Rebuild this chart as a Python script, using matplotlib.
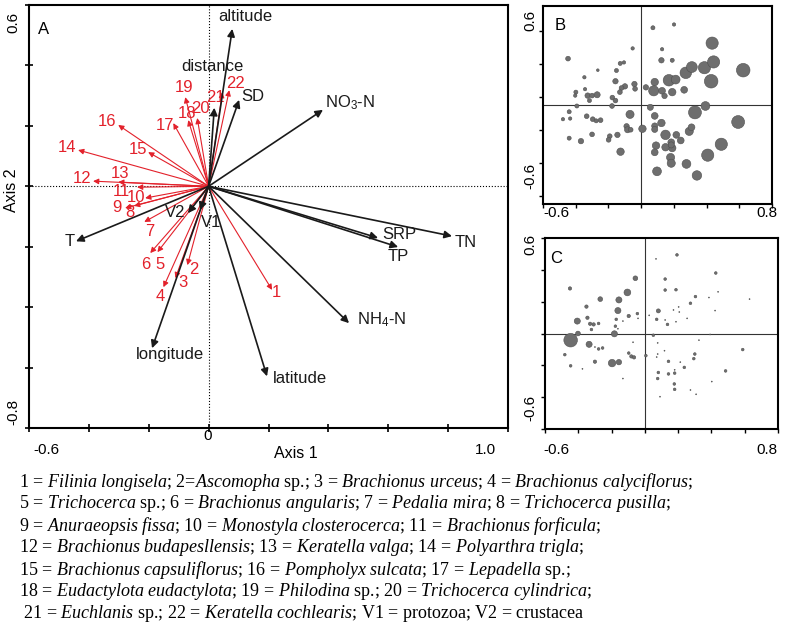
import re
import numpy as np
import matplotlib
matplotlib.use('Agg')
import matplotlib.pyplot as plt

plt.rcParams['font.family'] = 'Liberation Sans'
plt.rcParams['mathtext.fontset'] = 'custom'
plt.rcParams['mathtext.rm'] = 'Liberation Serif'
plt.rcParams['mathtext.it'] = 'Liberation Serif:italic'
plt.rcParams['mathtext.sf'] = 'Liberation Sans'

RED = '#e3212b'
GREY = '#6e6e6e'

# --- panel A: environmental vectors (black) ---
env_names = ['altitude', 'distance', 'SD', r'NO$_\mathsf{3}$-N', 'TN', 'SRP', 'TP',
             r'NH$_\mathsf{4}$-N', 'latitude', 'longitude', 'T', 'V2', 'V1']
env_x = [0.079, 0.019, 0.102, 0.382, 0.813, 0.566, 0.633, 0.469, 0.195, -0.189, -0.443, -0.069, -0.029]
env_y = [0.521, 0.260, 0.286, 0.253, -0.165, -0.171, -0.201, -0.453, -0.629, -0.536, -0.182, -0.089, -0.079]
# label offsets (pixels) from arrow tips
env_off = [(13, 12), (-2, 41), (14, 3), (27, 7), (14, -6), (21, 3), (0, -9),
           (33, 3), (33, -2), (18, -6), (-6, 0), (-13, 1), (11, -12)]

# --- panel A: species vectors (red) ---
sp_ids = [str(i) for i in range(1, 23)]
sp_x = [0.212, -0.071, -0.111, -0.151, -0.171, -0.195, -0.215, -0.249, -0.279, -0.212, -0.239,
        -0.386, -0.302, -0.436, -0.202, -0.302, -0.118, -0.068, -0.078, -0.038, 0.046, 0.069]
sp_y = [-0.343, -0.261, -0.304, -0.334, -0.218, -0.221, -0.118, -0.065, -0.072, -0.039, -0.003,
        0.017, 0.014, 0.120, 0.113, 0.203, 0.209, 0.219, 0.295, 0.226, 0.312, 0.318]
sp_off = [(4, -3), (6, -4), (8, -4), (-3, -9), (3, -12), (-4, -11), (5, -10), (-4, -7),
          (-8, 1), (-9, 1), (-16, -4), (-11, 3), (2, 9), (-11, 3), (-10, 3), (-11, 3),
          (-8, -2), (-1, 7), (-1, 10), (3, 10), (-7, -5), (6, 7)]

# --- panel B: site scores, bubble = relative abundance ---
b_x = [0.072, 0.201, -0.052, 0.128, -0.447, 0.124, 0.190, -0.128, -0.105, -0.265,
       -0.151, -0.347, -0.157, -0.041, -0.037, 0.029, 0.083, -0.099, -0.120, -0.130,
       -0.343, -0.399, -0.403, -0.327, -0.300, -0.269, -0.316, -0.176, -0.157, -0.393,
       -0.178, -0.440, -0.434, -0.478, -0.333, -0.296, -0.248, -0.275, -0.068, -0.089,
       -0.083, -0.064, -0.145, -0.192, -0.199, -0.300, -0.440, -0.368, -0.126, 0.008,
       0.077, 0.128, 0.143, 0.190, 0.170, 0.211, 0.263, 0.273, 0.310, 0.387,
       0.434, 0.443, 0.428, 0.624, 0.056, 0.083, 0.124, 0.083, 0.083, 0.149,
       0.215, 0.242, 0.294, 0.308, 0.329, 0.393, 0.593, 0.490, 0.407, 0.184,
       0.190, 0.149, 0.091, 0.083, 0.180, 0.184, 0.277, 0.341, 0.097, 0.184]
b_y = [0.468, 0.488, 0.343, 0.338, 0.281, 0.271, 0.271, 0.252, 0.258, 0.211,
       0.209, 0.168, 0.144, 0.127, 0.098, 0.107, 0.139, 0.113, 0.103, 0.078,
       0.096, 0.078, 0.057, 0.057, 0.057, 0.062, 0.027, 0.045, 0.027, -0.006,
       -0.006, -0.041, -0.082, -0.086, -0.068, -0.086, -0.092, -0.096, -0.057, -0.129,
       -0.150, -0.150, -0.181, -0.189, -0.211, -0.178, -0.201, -0.219, -0.283, -0.144,
       0.086, 0.086, 0.055, 0.078, 0.150, 0.154, 0.092, 0.195, 0.230, 0.226,
       0.375, 0.261, 0.144, 0.211, -0.014, -0.066, -0.109, -0.127, -0.148, -0.181,
       -0.181, -0.215, -0.160, -0.135, -0.045, -0.006, -0.103, -0.238, -0.304, -0.226,
       -0.261, -0.256, -0.246, -0.287, -0.318, -0.353, -0.357, -0.427, -0.402, -0.242]
b_abund = [12, 10, 10, 10, 14, 16, 12, 12, 10, 8,
           12, 10, 16, 16, 14, 16, 22, 16, 14, 14,
           10, 12, 10, 16, 14, 18, 12, 14, 14, 12,
           14, 12, 10, 10, 14, 14, 14, 12, 24, 16,
           18, 14, 16, 14, 14, 14, 12, 16, 22, 22,
           30, 20, 16, 22, 34, 26, 20, 34, 32, 36,
           36, 36, 40, 40, 18, 20, 22, 18, 18, 28,
           20, 20, 24, 20, 38, 26, 38, 36, 36, 20,
           22, 22, 22, 20, 24, 24, 26, 28, 26, 18]

# --- panel C ---
c_x = [0.193, 0.067, 0.426, 0.122, -0.057, -0.450, 0.122, 0.187, -0.105, -0.268,
       -0.156, 0.304, 0.385, 0.440, 0.629, 0.274, -0.351, -0.162, 0.203, 0.172,
       0.207, 0.422, 0.081, -0.045, -0.097, -0.041, 0.026, 0.254, 0.071, 0.122,
       0.187, 0.136, -0.172, -0.132, -0.345, -0.406, -0.329, -0.308, -0.278, -0.321,
       -0.177, -0.162, -0.402, -0.446, -0.183, 0.051, 0.392, 0.325, 0.077, -0.071,
       -0.335, -0.300, -0.278, -0.254, -0.481, 0.588, 0.118, 0.006, -0.097, -0.081,
       -0.065, 0.077, 0.071, 0.300, 0.294, 0.142, 0.213, -0.300, -0.197, -0.156,
       -0.446, -0.375, 0.237, 0.179, 0.081, 0.142, 0.179, 0.485, 0.077, -0.132,
       0.402, 0.177, 0.179, 0.274, 0.308, 0.091]
c_y = [0.494, 0.469, 0.380, 0.342, 0.347, 0.283, 0.273, 0.275, 0.258, 0.216,
       0.211, 0.232, 0.226, 0.262, 0.216, 0.190, 0.169, 0.144, 0.167, 0.148,
       0.135, 0.144, 0.142, 0.125, 0.110, 0.095, 0.114, 0.095, 0.089, 0.085,
       0.074, 0.057, 0.089, 0.078, 0.099, 0.078, 0.061, 0.057, 0.063, 0.025,
       0.046, 0.030, 0.000, -0.042, -0.002, -0.011, -0.006, -0.042, -0.059, -0.055,
       -0.068, -0.085, -0.097, -0.091, -0.133, -0.101, -0.108, -0.139, -0.123, -0.144,
       -0.150, -0.129, -0.148, -0.129, -0.158, -0.175, -0.180, -0.177, -0.186, -0.180,
       -0.203, -0.222, -0.213, -0.228, -0.245, -0.254, -0.249, -0.235, -0.283, -0.283,
       -0.302, -0.317, -0.351, -0.355, -0.382, -0.397]
c_abund = [8, 3, 8, 8, 14, 10, 8, 8, 20, 14,
           18, 8, 3, 3, 3, 8, 10, 18, 3, 3,
           3, 3, 12, 8, 10, 3, 3, 3, 8, 3,
           3, 8, 8, 3, 10, 18, 10, 10, 8, 8,
           8, 3, 14, 40, 18, 8, 3, 3, 3, 3,
           18, 3, 8, 8, 8, 8, 3, 8, 8, 10,
           10, 3, 3, 8, 8, 8, 3, 10, 22, 16,
           8, 3, 8, 3, 8, 8, 8, 8, 8, 3,
           3, 8, 8, 3, 3, 3]

legend_lines = [
    "1 = *Filinia longisela*; 2=*Ascomopha* sp.; 3 = *Brachionus urceus*; 4 = *Brachionus calyciflorus*;",
    "5 = *Trichocerca* sp.; 6 = *Brachionus angularis*; 7 = *Pedalia mira*; 8 = *Trichocerca pusilla*;",
    "9 = *Anuraeopsis fissa*; 10 = *Monostyla closterocerca*; 11 = *Brachionus forficula*;",
    "12 = *Brachionus budapesllensis*; 13 = *Keratella valga*; 14 = *Polyarthra trigla*;",
    "15 = *Brachionus capsuliflorus*; 16 = *Pompholyx sulcata*; 17 = *Lepadella* sp.;",
    "18 = *Eudactylota eudactylota*; 19 = *Philodina* sp.; 20 = *Trichocerca cylindrica*;",
    " 21 = *Euchlanis* sp.; 22 = *Keratella cochlearis*; V1 = protozoa; V2 = crustacea",
]

W, H = 787, 625
fig = plt.figure(figsize=(W / 100, H / 100), dpi=100)


def frac(px, py):
    return px / W, 1 - py / H


def box(l, t, r, b):
    return [l / W, 1 - b / H, (r - l) / W, (b - t) / H]


# ---------------- panel A ----------------
ax = fig.add_axes(box(29, 5, 508, 428))
ax.set_xlim(-0.6, 1.0)
ax.set_ylim(-0.8, 0.6)
ax.axhline(0, color='k', ls=':', lw=0.8)
ax.axvline(0, color='k', ls=':', lw=0.8)
for s in ax.spines.values():
    s.set_linewidth(1.5)
ax.set_xticks(np.arange(-0.6, 1.01, 0.2))
ax.set_yticks(np.arange(-0.8, 0.61, 0.2))
ax.tick_params(direction='inout', length=6, width=1.2, labelbottom=False, labelleft=False)

for x, y, lab, (ox, oy) in zip(sp_x, sp_y, sp_ids, sp_off):
    ax.annotate('', xy=(x, y), xytext=(0, 0),
                arrowprops=dict(arrowstyle='-|>', color=RED, lw=0.8, shrinkA=0, shrinkB=0,
                                mutation_scale=8))
    ax.annotate(lab, xy=(x, y), xytext=(ox, oy), textcoords='offset pixels',
                ha='center', va='center', color=RED, fontsize=12)

for x, y, lab, (ox, oy) in zip(env_x, env_y, env_names, env_off):
    ax.annotate('', xy=(x, y), xytext=(0, 0),
                arrowprops=dict(arrowstyle='-|>', color='#1a1a1a', lw=1.2, shrinkA=0, shrinkB=0,
                                mutation_scale=11))
    ax.annotate(lab, xy=(x, y), xytext=(ox, oy), textcoords='offset pixels',
                ha='center', va='center', color='#1a1a1a', fontsize=12)

fig.text(*frac(44, 30), 'A', fontsize=12, ha='center', va='center')
fig.text(*frac(46, 450), '-0.6', fontsize=11, ha='center', va='center')
fig.text(*frac(208, 436), '0', fontsize=11, ha='center', va='center')
fig.text(*frac(485, 450), '1.0', fontsize=11, ha='center', va='center')
fig.text(*frac(296, 453), 'Axis 1', fontsize=11.5, ha='center', va='center')
fig.text(*frac(13, 22), '0.6', fontsize=11, ha='center', va='center', rotation=90)
fig.text(*frac(13, 412), '-0.8', fontsize=11, ha='center', va='center', rotation=90)
fig.text(*frac(11, 190), 'Axis 2', fontsize=11.5, ha='center', va='center', rotation=90)


# ---------------- panels B and C ----------------
def bubble_panel(rect, xs, ys, ab, letter, yticks, lab_pos):
    a = fig.add_axes(rect)
    a.set_xlim(-0.6, 0.8)
    a.set_ylim(-0.6, 0.6)
    a.axhline(0, color='#333333', lw=0.8)
    a.axvline(0, color='#333333', lw=0.8)
    sz = (np.array(ab) / 2.95 * 0.72) ** 2
    a.scatter(xs, ys, s=sz, c=GREY, edgecolors='#505050', linewidths=0.4, zorder=3)
    for s in a.spines.values():
        s.set_linewidth(1.5)
    a.set_xticks(np.arange(-0.6, 0.81, 0.2))
    a.set_yticks(yticks)
    a.tick_params(direction='out', length=3, width=1, labelbottom=False, labelleft=False)
    (lx, ly), (y1x, y1y), (y2x, y2y), (x1x, x1y), (x2x, x2y) = lab_pos
    fig.text(*frac(lx, ly), letter, fontsize=12, ha='center', va='center')
    fig.text(*frac(y1x, y1y), '0.6', fontsize=11, ha='center', va='center', rotation=90)
    fig.text(*frac(y2x, y2y), '-0.6', fontsize=11, ha='center', va='center', rotation=90)
    fig.text(*frac(x1x, x1y), '-0.6', fontsize=11, ha='center', va='center')
    fig.text(*frac(x2x, x2y), '0.8', fontsize=11, ha='center', va='center')
    return a


bubble_panel(box(543, 6, 772, 204), b_x, b_y, b_abund, 'B',
             np.arange(-0.553, 0.5, 0.2),
             [(560, 25), (530, 20), (530, 176), (556, 213), (767, 213)])
bubble_panel(box(545, 238, 778, 429), c_x, c_y, c_abund, 'C',
             np.arange(-0.6, 0.61, 0.2),
             [(556, 258), (530, 244), (530, 408), (556, 450), (767, 450)])


# ---------------- species legend ----------------
def to_math(line):
    return re.sub(r'\*(.+?)\*', lambda m: '$\\mathit{' + m.group(1).replace(' ', '\\ ') + '}$', line)


for i, line in enumerate(legend_lines):
    fig.text(19 / W, 1 - (482 + i * 22.0) / H, to_math(line), fontsize=13,
             family='Liberation Serif', ha='left', va='center')

fig.savefig('out.png', dpi=100)
